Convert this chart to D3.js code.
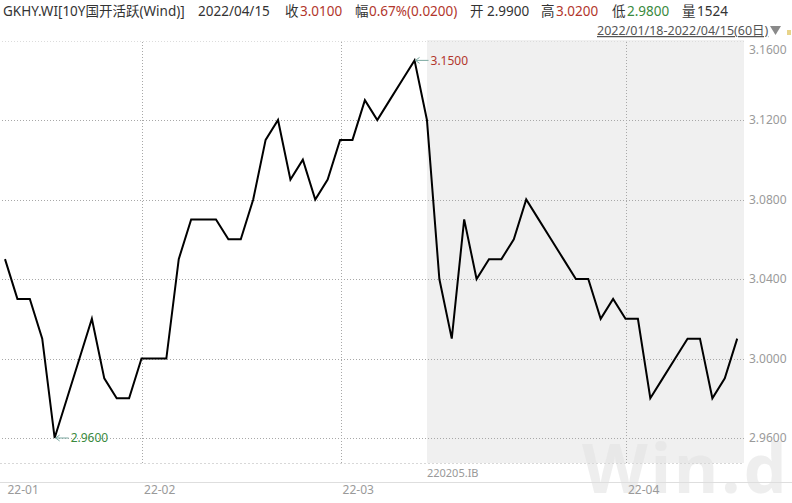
<!DOCTYPE html>
<html><head><meta charset="utf-8">
<script src="https://cdn.jsdelivr.net/npm/d3@7"></script>
<style>
html,body{margin:0;padding:0;background:#fff;}
svg{display:block;}
text{font-family:"Noto Sans","Noto Sans CJK SC",sans-serif;}
</style></head>
<body>
<svg id="chart" width="792" height="503"></svg>
<script>
// ---------- data ----------
const dates = [
 "2022-01-18","2022-01-19","2022-01-20","2022-01-21","2022-01-24","2022-01-25","2022-01-26","2022-01-27","2022-01-28","2022-01-29","2022-01-30",
 "2022-02-07","2022-02-08","2022-02-09","2022-02-10","2022-02-11","2022-02-14","2022-02-15","2022-02-16","2022-02-17","2022-02-18","2022-02-21","2022-02-22","2022-02-23","2022-02-24","2022-02-25","2022-02-28",
 "2022-03-01","2022-03-02","2022-03-03","2022-03-04","2022-03-07","2022-03-08","2022-03-09","2022-03-10","2022-03-11","2022-03-14","2022-03-15","2022-03-16","2022-03-17","2022-03-18","2022-03-21","2022-03-22","2022-03-23","2022-03-24","2022-03-25","2022-03-28","2022-03-29","2022-03-30","2022-03-31",
 "2022-04-01","2022-04-02","2022-04-06","2022-04-07","2022-04-08","2022-04-11","2022-04-12","2022-04-13","2022-04-14","2022-04-15"
];
const closeValues = [
 3.05,3.03,3.03,3.01,2.96,2.98,3.00,3.02,2.99,2.98,2.98,
 3.00,3.00,3.00,3.05,3.07,3.07,3.07,3.06,3.06,3.08,3.11,3.12,3.09,3.10,3.08,3.09,
 3.11,3.11,3.13,3.12,3.13,3.14,3.15,3.12,3.04,3.01,3.07,3.04,3.05,3.05,3.06,3.08,3.07,3.06,3.05,3.04,3.04,3.02,3.03,
 3.02,3.02,2.98,2.99,3.00,3.01,3.01,2.98,2.99,3.01
];
const yTicks = [2.96, 3.00, 3.04, 3.08, 3.12, 3.16];
const monthStarts = ["2022-01-18","2022-02-07","2022-03-01","2022-04-01"];
const monthLabels = ["22-01","22-02","22-03","22-04"];
const shadeStart = "2022-03-10";
const contractLabel = "220205.IB";
const titleText = "GKHY.WI[10Y国开活跃(Wind)]";
const headerDate = "2022/04/15";
const headerItems = [
  {label:"收", value:"3.0100"},
  {label:"幅", value:"0.67%(0.0200)"},
  {label:"开", value:"2.9900"},
  {label:"高", value:"3.0200"},
  {label:"低", value:"2.9800"},
  {label:"量", value:"1524"}
];
const rangeText = "2022/01/18-2022/04/15(60日)";
const maxLabel = "3.1500", minLabel = "2.9600";

// ---------- layout ----------
const svg = d3.select("#chart");
const plotL = 0, plotR = 744, plotT = 40, plotB = 463;
const x = d3.scalePoint().domain(dates).range([-1.2, 743.4]).padding(0.5);
const y = d3.scaleLinear().domain([2.96, 3.16]).range([438, 40.5]);

// shaded region
svg.append("rect").attr("x", x(shadeStart)).attr("y", plotT)
  .attr("width", plotR - x(shadeStart)).attr("height", plotB - plotT)
  .attr("fill", "#f0f0f0");

// watermark
svg.append("text").attr("x", 582).attr("y", 493)
  .attr("font-family", "Liberation Sans, Arial, sans-serif")
  .attr("font-weight", "bold").attr("font-size", 68)
  .attr("fill", "#e2e2e2").attr("fill-opacity", 0.6)
  .attr("letter-spacing", 3)
  .text("Win.d");

// horizontal grid via axis
const gridY = svg.append("g").attr("transform", `translate(${plotR},0)`)
  .call(d3.axisLeft(y).tickValues(yTicks).tickSize(plotR - plotL).tickFormat(""));
gridY.select(".domain").remove();
gridY.selectAll("line").attr("stroke", (d)=> d===3.16 ? "#dcdcdc" : "#a8a8a8")
  .attr("stroke-dasharray", "1,2").attr("shape-rendering","crispEdges");

// vertical month grid
const gridX = svg.append("g").attr("transform", `translate(0,${plotB})`)
  .call(d3.axisBottom(x).tickValues(monthStarts.slice(1)).tickSize(-(plotB - plotT)).tickFormat(""));
gridX.select(".domain").remove();
gridX.selectAll("line").attr("stroke", "#a8a8a8").attr("stroke-dasharray", "1,2")
  .attr("transform","translate(0.5,0)").attr("shape-rendering","crispEdges");

// bottom plot border (faint dotted) and axis line
svg.append("line").attr("x1", plotL).attr("x2", plotR).attr("y1", plotB+0.5).attr("y2", plotB+0.5)
  .attr("stroke", "#d8d8d8").attr("stroke-dasharray", "2,2");
svg.append("line").attr("x1", 0).attr("x2", 792).attr("y1", 482.5).attr("y2", 482.5)
  .attr("stroke", "#dedede");

// contract label
svg.append("text").attr("x", x(shadeStart)).attr("y", 477)
  .attr("font-size", 11).attr("fill", "#999").text(contractLabel);

// x axis labels
const xAxis = svg.append("g").attr("transform", "translate(0,484)")
  .call(d3.axisBottom(x).tickValues(monthStarts).tickSize(0)
    .tickFormat((d,i)=>monthLabels[i]));
xAxis.select(".domain").remove();
xAxis.selectAll("text").attr("text-anchor","start").attr("dx", 2).attr("dy","0.55em")
  .attr("font-size", 12).attr("fill", "#9a9a9a").attr("font-family","Noto Sans");

// y axis labels
const yAxis = svg.append("g").attr("transform", `translate(${plotR},0)`)
  .call(d3.axisRight(y).tickValues(yTicks).tickSize(0).tickFormat(d3.format(".4f")));
yAxis.select(".domain").remove();
yAxis.selectAll("text").attr("x", 5).attr("font-size", 12).attr("fill", "#9a9a9a")
  .attr("font-family","Noto Sans")
  .attr("dy", d => d===3.16 ? "1.05em" : "0.32em");

// line
const series = dates.map((d,i)=>({d, v: closeValues[i]}));
svg.append("path").datum(series)
  .attr("fill","none").attr("stroke","#000").attr("stroke-width",2)
  .attr("stroke-linejoin","miter")
  .attr("d", d3.line().x(p=>x(p.d)).y(p=>y(p.v)));

// max / min annotations
function annotate(p, label, color) {
  const px = x(p.d), py = y(p.v);
  const g = svg.append("g");
  g.append("line").attr("x1", px+1).attr("x2", px+14).attr("y1", py).attr("y2", py)
    .attr("stroke", "#7aa8a0").attr("stroke-width", 1);
  g.append("path").attr("d", `M${px+1},${py} l4,-3 M${px+1},${py} l4,3`)
    .attr("stroke", "#7aa8a0").attr("fill","none").attr("stroke-width",1);
  g.append("text").attr("x", px+16).attr("y", py).attr("dy","0.35em")
    .attr("font-size", 12).attr("fill", color).text(label);
}
const maxP = series[d3.maxIndex(series, p=>p.v)];
const minP = series[d3.minIndex(series, p=>p.v)];
annotate(maxP, maxLabel, "#b2362c");
annotate(minP, minLabel, "#3a8a3e");

// header
const hdr = svg.append("g").attr("font-size", 13.5).attr("fill", "#333");
hdr.append("text").attr("x", 3).attr("y", 16).attr("font-family","Noto Sans CJK SC").text(titleText);
hdr.append("text").attr("x", 198).attr("y", 16).text(headerDate);
const labelX = [285, 355, 470, 541, 612, 682];
const valueX = [300, 369, 487, 556, 627, 697];
const valueColors = ["#b2362c","#b2362c","#333","#b2362c","#3a8a3e","#333"];
headerItems.forEach((h,i)=>{
  hdr.append("text").attr("x", labelX[i]).attr("y", 16).attr("font-family","Noto Sans CJK SC").text(h.label);
  hdr.append("text").attr("x", valueX[i]).attr("y", 16).attr("fill", valueColors[i]).text(h.value);
});
const rt = svg.append("text").attr("x", 597).attr("y", 35).attr("font-size", 12.5)
  .attr("fill", "#555").attr("font-family","Noto Sans CJK SC")
  .attr("text-decoration","underline").text(rangeText);
svg.append("path").attr("d","M770,26 L781,26 L775.5,35 Z").attr("fill","#8a8a8a");
svg.append("rect").attr("x",787).attr("y",30).attr("width",4).attr("height",5).attr("fill","#e8d48a");
</script>
</body></html>
